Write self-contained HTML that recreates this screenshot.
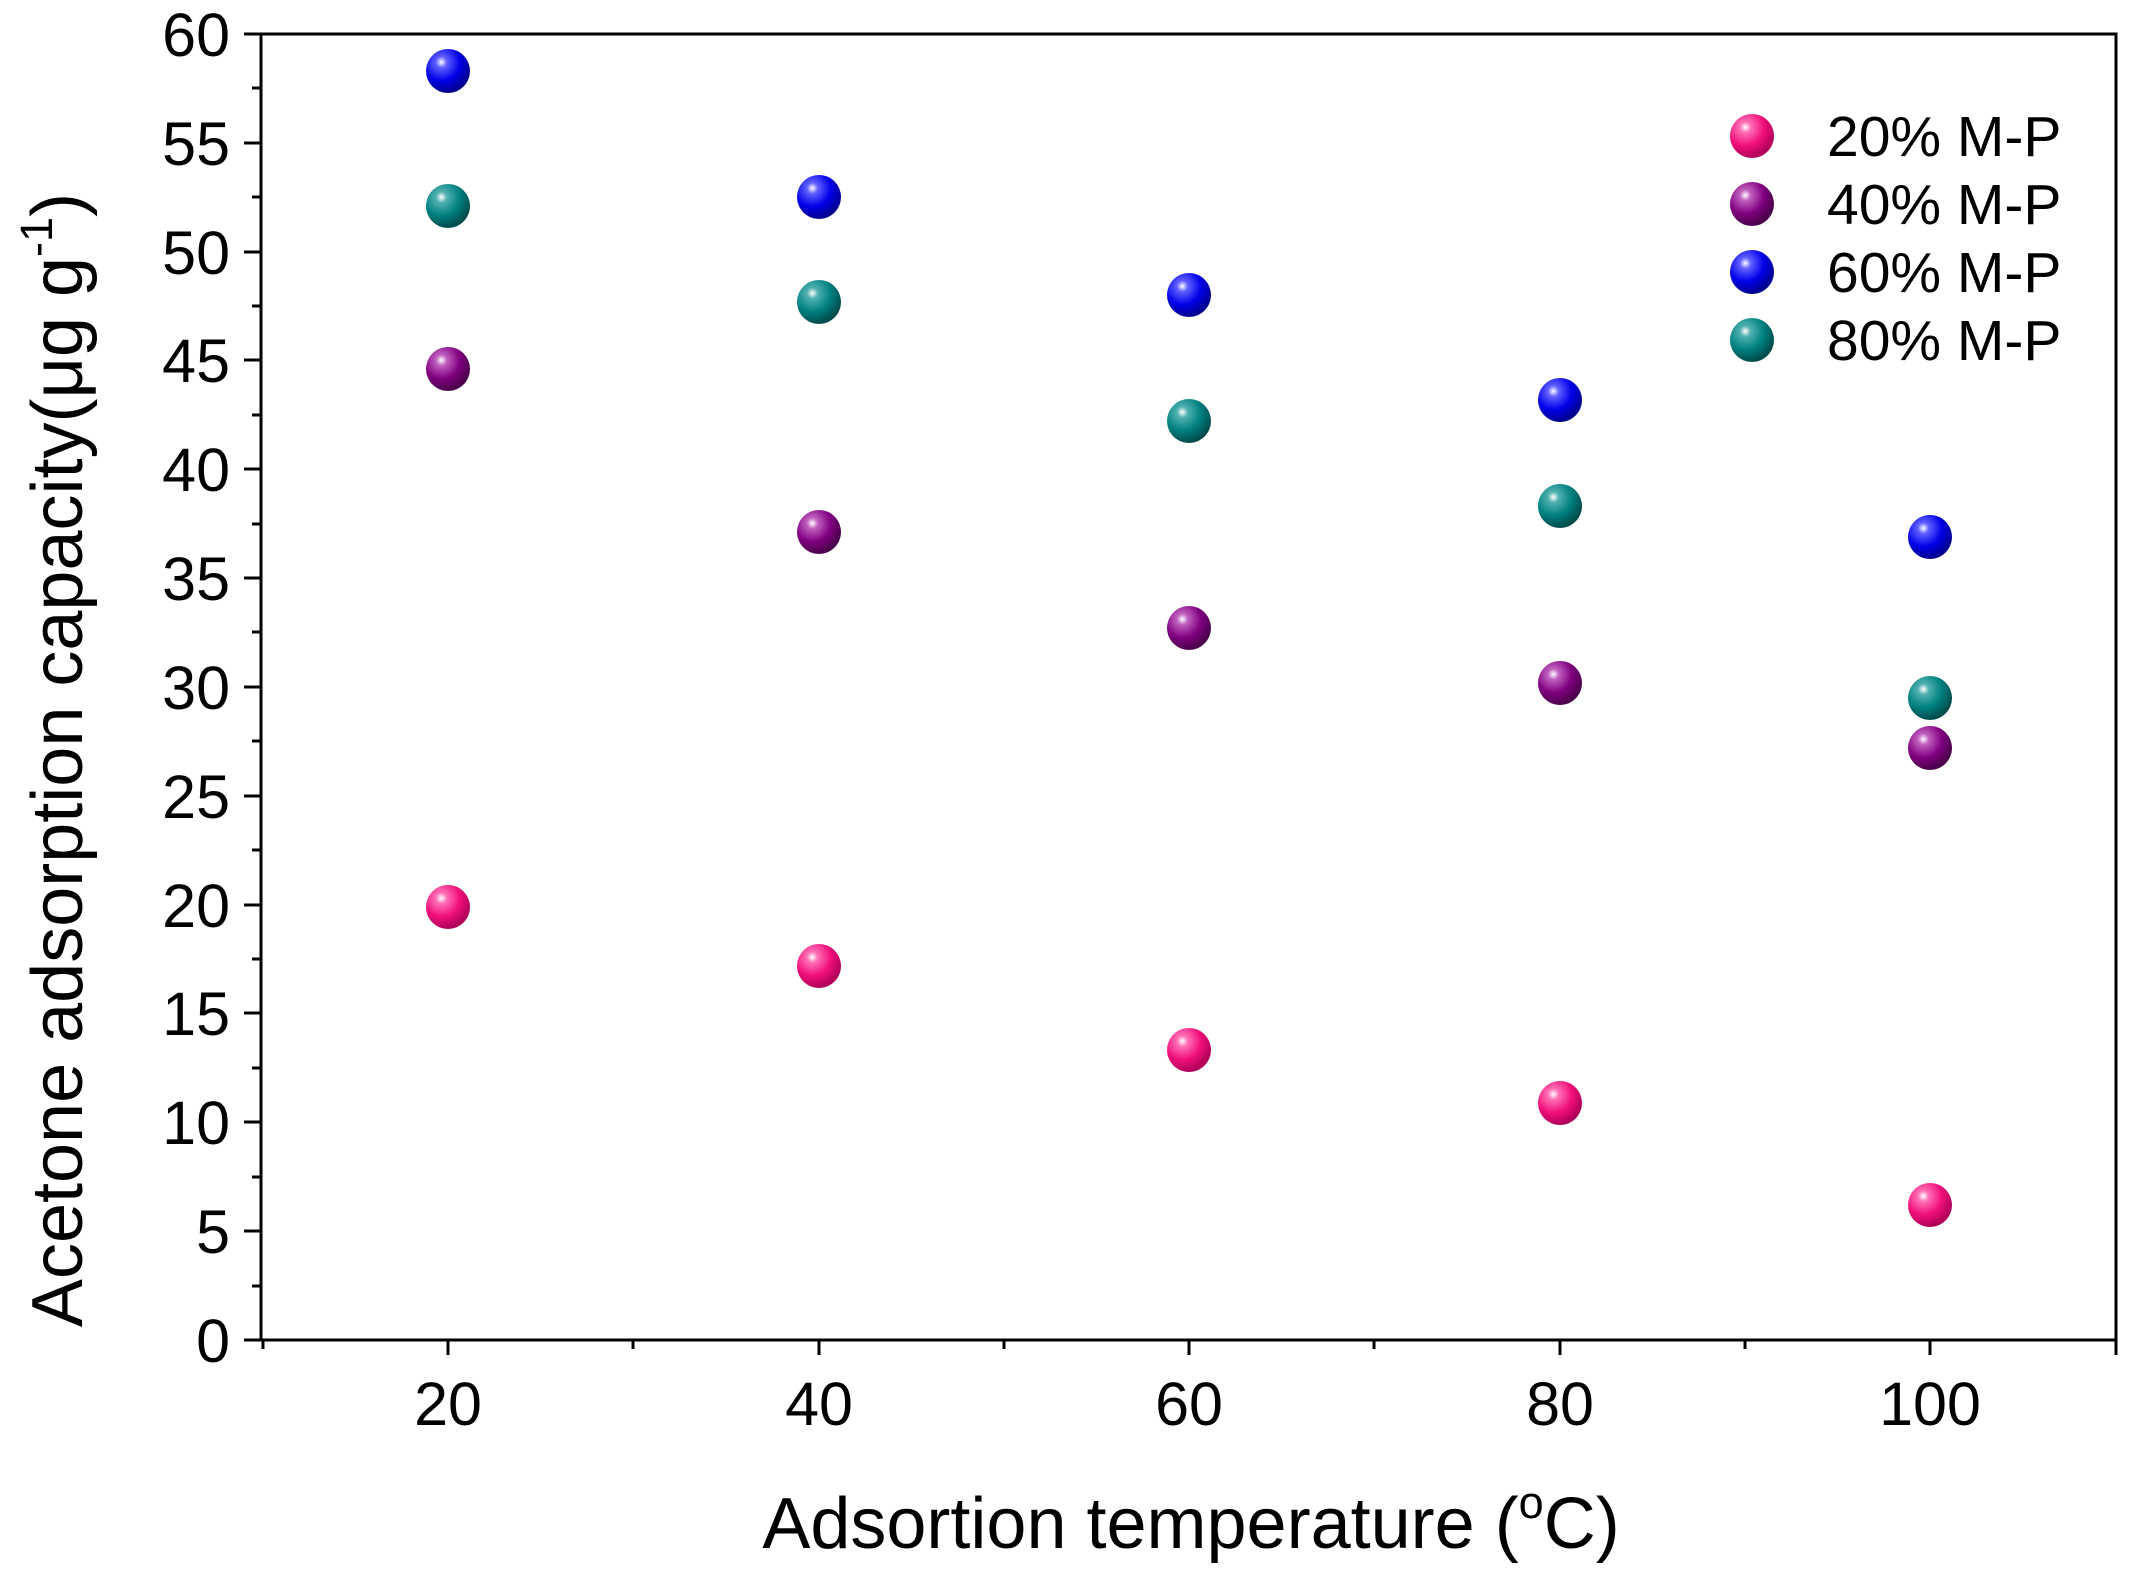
<!DOCTYPE html>
<html><head><meta charset="utf-8"><style>html,body{margin:0;padding:0;background:#fff}svg{display:block}</style></head>
<body>
<svg width="2130" height="1572" viewBox="0 0 2130 1572" xmlns="http://www.w3.org/2000/svg" font-family="Liberation Sans, Arial, sans-serif">
<defs>
<radialGradient id="gp" cx="0.35" cy="0.3" r="0.7"><stop offset="0" stop-color="#fff"/><stop offset="0.18" stop-color="#ff6fb5"/><stop offset="0.6" stop-color="#f0107a"/><stop offset="1" stop-color="#b00058"/></radialGradient>
<radialGradient id="gu" cx="0.35" cy="0.3" r="0.7"><stop offset="0" stop-color="#fff"/><stop offset="0.18" stop-color="#c060c0"/><stop offset="0.6" stop-color="#800080"/><stop offset="1" stop-color="#4a004a"/></radialGradient>
<radialGradient id="gb" cx="0.35" cy="0.3" r="0.7"><stop offset="0" stop-color="#fff"/><stop offset="0.18" stop-color="#6060ff"/><stop offset="0.6" stop-color="#0000e8"/><stop offset="1" stop-color="#000090"/></radialGradient>
<radialGradient id="gt" cx="0.35" cy="0.3" r="0.7"><stop offset="0" stop-color="#fff"/><stop offset="0.18" stop-color="#50b0b0"/><stop offset="0.6" stop-color="#008080"/><stop offset="1" stop-color="#004c4c"/></radialGradient>
</defs>
<g stroke="#000" stroke-width="3" fill="none">
<rect x="261" y="34" width="1855" height="1306"/>
<path d="M261 1340h-17M261 1231h-17M261 1122h-17M261 1013h-17M261 905h-17M261 796h-17M261 687h-17M261 578h-17M261 469h-17M261 360h-17M261 252h-17M261 143h-17M261 34h-17"/>
<path d="M261 1286h-9M261 1177h-9M261 1068h-9M261 959h-9M261 850h-9M261 741h-9M261 632h-9M261 524h-9M261 415h-9M261 306h-9M261 197h-9M261 88h-9"/>
<path d="M448 1340v15M819 1340v15M1189 1340v15M1560 1340v15M1930 1340v15M2116 1340v15"/>
<path d="M633 1340v9M1004 1340v9M1374 1340v9M1745 1340v9M263 1340v9"/>
</g>
<g font-size="61" fill="#000" text-anchor="end">
<text x="230" y="1362">0</text><text x="230" y="1253">5</text><text x="230" y="1144">10</text><text x="230" y="1035">15</text><text x="230" y="927">20</text><text x="230" y="818">25</text><text x="230" y="709">30</text><text x="230" y="600">35</text><text x="230" y="491">40</text><text x="230" y="382">45</text><text x="230" y="274">50</text><text x="230" y="165">55</text><text x="230" y="56">60</text>
</g>
<g font-size="61" fill="#000" text-anchor="middle">
<text x="448" y="1425">20</text><text x="819" y="1425">40</text><text x="1189" y="1425">60</text><text x="1560" y="1425">80</text><text x="1930" y="1425">100</text>
</g>
<text x="1191" y="1548" font-size="72" text-anchor="middle">Adsortion temperature (<tspan font-size="45" dy="-30">o</tspan><tspan dy="30">C)</tspan></text>
<text transform="translate(82,760) rotate(-90)" font-size="72" text-anchor="middle">Acetone adsorption capacity(μg g<tspan font-size="45" dy="-30">-1</tspan><tspan dy="30">)</tspan></text>
<g>
<circle cx="448" cy="907" r="22" fill="url(#gp)"/><circle cx="819" cy="966" r="22" fill="url(#gp)"/><circle cx="1189" cy="1050" r="22" fill="url(#gp)"/><circle cx="1560" cy="1103" r="22" fill="url(#gp)"/><circle cx="1930" cy="1205" r="22" fill="url(#gp)"/>
<circle cx="448" cy="369" r="22" fill="url(#gu)"/><circle cx="819" cy="532" r="22" fill="url(#gu)"/><circle cx="1189" cy="628" r="22" fill="url(#gu)"/><circle cx="1560" cy="683" r="22" fill="url(#gu)"/><circle cx="1930" cy="748" r="22" fill="url(#gu)"/>
<circle cx="448" cy="71" r="22" fill="url(#gb)"/><circle cx="819" cy="197" r="22" fill="url(#gb)"/><circle cx="1189" cy="295" r="22" fill="url(#gb)"/><circle cx="1560" cy="400" r="22" fill="url(#gb)"/><circle cx="1930" cy="537" r="22" fill="url(#gb)"/>
<circle cx="448" cy="206" r="22" fill="url(#gt)"/><circle cx="819" cy="302" r="22" fill="url(#gt)"/><circle cx="1189" cy="421" r="22" fill="url(#gt)"/><circle cx="1560" cy="506" r="22" fill="url(#gt)"/><circle cx="1930" cy="698" r="22" fill="url(#gt)"/>
</g>
<g>
<circle cx="1752" cy="136" r="22" fill="url(#gp)"/><circle cx="1752" cy="204" r="22" fill="url(#gu)"/><circle cx="1752" cy="272" r="22" fill="url(#gb)"/><circle cx="1752" cy="340" r="22" fill="url(#gt)"/>
</g>
<g font-size="57" fill="#000">
<text x="1827" y="156">20% M-P</text><text x="1827" y="224">40% M-P</text><text x="1827" y="292">60% M-P</text><text x="1827" y="360">80% M-P</text>
</g>
</svg>
</body></html>
